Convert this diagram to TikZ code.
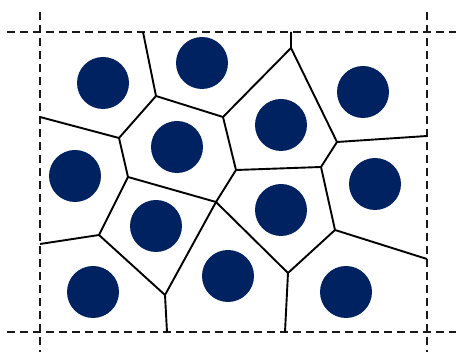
\documentclass[tikz,border=0pt]{standalone}
\begin{document}
\begin{tikzpicture}[x=1pt,y=-1pt,
  cell/.style={draw=black,line width=1.9pt,line join=miter},
  frame/.style={draw=black!90,line width=1.9pt,dash pattern=on 8pt off 5pt},
  site/.style={fill=navy,draw=none}]
\definecolor{navy}{RGB}{0,34,96}
\useasboundingbox (0,0) rectangle (456,352);
% frame
\draw[frame] (7,32) -- (456,32);
\draw[frame] (7,332) -- (456,332);
\draw[frame] (40,12) -- (40,352);
\draw[frame] (427,12) -- (427,352);
% vertices
\coordinate (A) at (143,32);
\coordinate (B) at (156,96);
\coordinate (C) at (223,117);
\coordinate (D) at (40,117);
\coordinate (E) at (119,138);
\coordinate (F) at (128,177);
\coordinate (G) at (216,202);
\coordinate (H) at (99,235);
\coordinate (Hl) at (40,244);
\coordinate (I) at (165,295);
\coordinate (Ib) at (167,332);
\coordinate (J) at (288,273);
\coordinate (Jb) at (285,332);
\coordinate (K) at (335,230);
\coordinate (Kr) at (427,259);
\coordinate (L) at (337,142);
\coordinate (Lr) at (427,136);
\coordinate (M) at (321,167);
\coordinate (N) at (236,170);
\coordinate (P) at (291,48);
\coordinate (Pt) at (291,32);
% edges
\draw[cell] (A) -- (B) -- (C) -- (P) -- (Pt);
\draw[cell] (D) -- (E) -- (B);
\draw[cell] (E) -- (F) -- (G) -- (N) -- (C);
\draw[cell] (F) -- (H) -- (Hl);
\draw[cell] (H) -- (I) -- (Ib);
\draw[cell] (G) -- (I);
\draw[cell] (G) -- (J) -- (Jb);
\draw[cell] (J) -- (K) -- (Kr);
\draw[cell] (K) -- (M) -- (N);
\draw[cell] (M) -- (L) -- (Lr);
\draw[cell] (P) -- (L);
% sites
\foreach \p in {(103,83),(202,63),(363,92),(281,125),(177,147),(75,176),
                (375,184),(156,226),(281,210),(93,292),(228,276),(346,292)}
  \fill[site] \p circle (26);
\end{tikzpicture}
\end{document}
